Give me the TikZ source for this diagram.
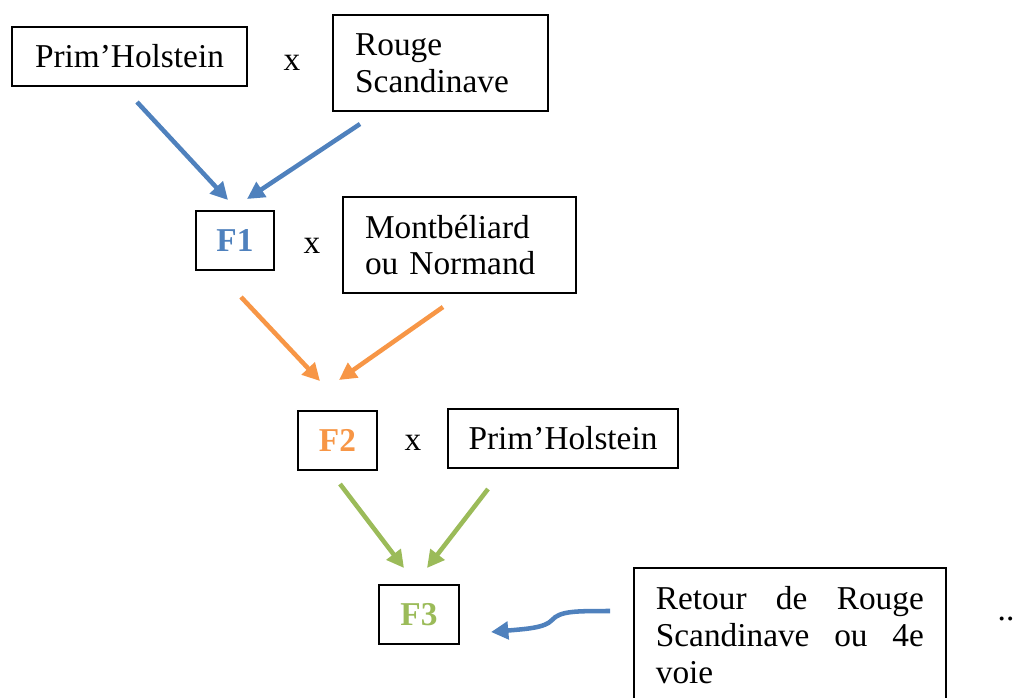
\documentclass[tikz,border=0pt]{standalone}
\usepackage{fontspec}
\setmainfont{Liberation Serif}
\usetikzlibrary{arrows.meta}
\definecolor{cblue}{RGB}{79,129,189}
\definecolor{corange}{RGB}{247,150,70}
\definecolor{cgreen}{RGB}{155,187,89}
\begin{document}
\begin{tikzpicture}[x=0.75pt,y=-0.75pt,
  font=\fontsize{25}{27.5}\selectfont,
  box/.style={draw, line width=1.3pt, inner sep=0pt, anchor=center},
  fbox/.style={box, font=\fontsize{25}{27.5}\selectfont\bfseries,
               minimum height=44.25pt},
  arr/.style={line width=3.4pt, -{Triangle[length=13pt,width=13pt]}},
  cross/.style={inner sep=0pt}
]
\useasboundingbox (0,0) rectangle (1019,697);

% boxes
\node[box, minimum width=176.25pt, minimum height=44.25pt] (ph1) at (129.5,56.5) {\raisebox{-1.5pt}{Prim’Holstein}};
\node[cross] (x1) at (292,63) {x};
\node[box, minimum width=161.25pt, minimum height=72pt, text width=128pt, align=left] (rs) at (440.5,63) {\raisebox{-1.5pt}{Rouge}\\\raisebox{-1.5pt}{Scandinave}};

\node[fbox, minimum width=58.5pt, text=cblue] (f1) at (235,240.5) {\raisebox{-1.5pt}{F1}};
\node[cross] (x2) at (312,246) {x};
\node[box, minimum width=174.75pt, minimum height=72pt, text width=141.75pt, align=left] (mn) at (459.5,245) {\raisebox{-1.5pt}{Montbéliard}\\\raisebox{-1.5pt}{ou Normand}};

\node[fbox, minimum width=59.25pt, text=corange] (f2) at (337.5,440.5) {\raisebox{-1.5pt}{F2}};
\node[cross] (x3) at (413,443) {x};
\node[box, minimum width=172.5pt, minimum height=44.25pt] (ph2) at (563,438.5) {\raisebox{-1.5pt}{Prim’Holstein}};

\node[fbox, minimum width=60pt, text=cgreen] (f3) at (419,614.5) {\raisebox{-1.5pt}{F3}};
\node[box, anchor=north west, text width=201pt, inner xsep=16.5pt, inner ysep=14pt, align=left]
  (ret) at (633,567)
  {\makebox[201pt]{Retour\hfill de\hfill Rouge}\\\makebox[201pt]{Scandinave\hfill ou\hfill 4e}\\voie};

\node[inner sep=0pt, anchor=base] (dots) at (1006,620) {..};

% connector end points
\coordinate (b1s) at (137,102);
\coordinate (b1e) at (228,200);
\coordinate (b2s) at (360,124);
\coordinate (b2e) at (247,199);
\coordinate (o1s) at (241,297);
\coordinate (o1e) at (320,381);
\coordinate (o2s) at (443,307);
\coordinate (o2e) at (339,380);
\coordinate (g1s) at (340,484);
\coordinate (g1e) at (404,568);
\coordinate (g2s) at (488,489);
\coordinate (g2e) at (427,568);
\coordinate (cs) at (610,611);
\coordinate (cm) at (552,620);
\coordinate (ce) at (491,632);

\draw[arr, cblue] (b1s) -- (b1e);
\draw[arr, cblue] (b2s) -- (b2e);
\draw[arr, corange] (o1s) -- (o1e);
\draw[arr, corange] (o2s) -- (o2e);
\draw[arr, cgreen] (g1s) -- (g1e);
\draw[arr, cgreen] (g2s) -- (g2e);
\draw[arr, cblue] (cs) .. controls (575,611) and (560,611) .. (cm)
  .. controls (545,628) and (525,629) .. (ce);
\end{tikzpicture}
\end{document}
